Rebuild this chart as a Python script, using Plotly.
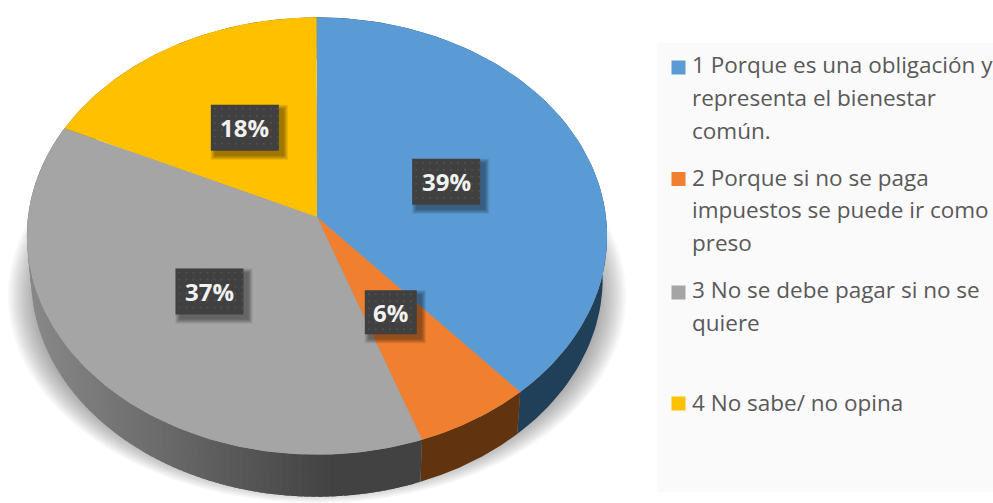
import numpy as np
import plotly.graph_objects as go

categories = ["1 Porque es una obligación y representa el bienestar común.",
              "2 Porque si no se paga impuestos se puede ir como preso",
              "3 No se debe pagar si no se quiere",
              "4 No sabe/ no opina"]
percent_values = [39, 6, 37, 18]
colors = ["#5B9BD5", "#F07F2F", "#A5A5A5", "#FFC000"]
side_colors = ["#203F58", "#61340F", None, "#7F6000"]
legend_lines = [["1 Porque es una obligación y", "representa el bienestar", "común."],
                ["2 Porque si no se paga", "impuestos se puede ir como", "preso"],
                ["3 No se debe pagar si no se", "quiere"],
                ["4 No sabe/ no opina"]]

# layout geometry (pixels)
W, H = 993, 503
CX, CY = 317, 217
A, B, K = 289, 217, 0.087
DEPTH, NARROW = 42, 0.985
VIEW_SKEW = 1.5
LEGEND_Y = [[64, 97, 130], [177, 209, 242], [289, 322], [402]]
SWATCH_Y = [67.5, 179, 292.5, 403.5]
LABEL_NUDGE = [(-2, 2), (-5, -6), (6, -3), (0, -4)]
FONT = "Open Sans"


def rim(t_deg, scale=1.0, drop=0.0, narrow=1.0):
    t_deg = np.asarray(t_deg, dtype=float)
    t_deg = t_deg - VIEW_SKEW * (1 + np.cos(np.radians(t_deg - 150))) / 2
    t = np.radians(t_deg)
    u, v = np.sin(t) * scale, -np.cos(t) * scale
    w = 1 - K * v
    return CX + A * narrow * u / w, CY + B * v / w + drop


def blend(c1, c2, f):
    a = np.array(c1, dtype=float)
    b = np.array(c2, dtype=float)
    r = a + (b - a) * f
    return "rgb(%d,%d,%d)" % tuple(r.round())


def poly(fig, x, y, color):
    fig.add_trace(go.Scatter(x=list(x), y=list(y), mode="lines", fill="toself",
                             fillcolor=color, line=dict(width=0, color=color),
                             hoverinfo="skip", showlegend=False))


fig = go.Figure()

# soft drop shadow below the disc
shadow_t = np.linspace(0, 360, 181)
for i in range(16):
    s = 1 - i * 0.0075
    rad = np.radians(shadow_t)
    poly(fig, 317 + 309 * s * np.sin(rad), 296 + 207 * s * np.cos(rad), "rgba(60,60,60,0.04)")

edges = np.concatenate([[0], np.cumsum(percent_values)]) * 3.6

# side wall
for i, (a0, a1) in enumerate(zip(edges[:-1], edges[1:])):
    if side_colors[i] is not None:
        ts = np.linspace(a0, a1, 80)
        x1, y1 = rim(ts)
        x2, y2 = rim(ts, drop=DEPTH, narrow=NARROW)
        poly(fig, np.r_[x1, x2[::-1]], np.r_[y1, y2[::-1]], side_colors[i])
    else:
        steps = np.linspace(a0, a1, 110)
        for s0, s1 in zip(steps[:-1], steps[1:]):
            ts = np.array([s0, min(s1 + 1.0, a1)])
            x1, y1 = rim(ts)
            x2, y2 = rim(ts, drop=DEPTH, narrow=NARROW)
            f = np.clip((x1.mean() - 35) / (330 - 35), 0, 1)
            poly(fig, np.r_[x1, x2[::-1]], np.r_[y1, y2[::-1]], blend((135, 135, 135), (66, 66, 66), f))

# top faces
for i, (a0, a1) in enumerate(zip(edges[:-1], edges[1:])):
    ts = np.linspace(a0, a1, 120)
    x, y = rim(ts)
    poly(fig, np.r_[CX, x, CX], np.r_[CY, y, CY], colors[i])

# data labels
box_w = {1: 52}
for i, (a0, a1) in enumerate(zip(edges[:-1], edges[1:])):
    mx, my = rim((a0 + a1) / 2)
    lx = CX + (mx - CX) * 0.5 + LABEL_NUDGE[i][0]
    ly = CY + (my - CY) * 0.5 + LABEL_NUDGE[i][1]
    hw, hh = box_w.get(i, 68) / 2, 23 if i != 1 else 22
    for n in range(5):
        g = 6 - n
        poly(fig, [lx - hw + 6 - g, lx + hw + 3 + g, lx + hw + 3 + g, lx - hw + 6 - g],
             [ly - hh + 6 - g, ly - hh + 6 - g, ly + hh + 3 + g, ly + hh + 3 + g], "rgba(0,0,0,0.09)")
    poly(fig, [lx - hw, lx + hw, lx + hw, lx - hw], [ly - hh, ly - hh, ly + hh, ly + hh], "#404040")
    gx, gy = np.meshgrid(np.arange(lx - hw + 4, lx + hw, 7), np.arange(ly - hh + 4, ly + hh, 7))
    fig.add_trace(go.Scatter(x=gx.ravel(), y=gy.ravel(), mode="markers",
                             marker=dict(size=2, color="#525252"), hoverinfo="skip", showlegend=False))
    fig.add_annotation(x=lx, y=ly, text="<b>%d%%</b>" % percent_values[i], showarrow=False,
                       font=dict(family=FONT, size=24, color="#F2F2F2"))

# legend
for i, lines in enumerate(legend_lines):
    fig.add_trace(go.Scatter(x=[678.5], y=[SWATCH_Y[i]], mode="markers",
                             marker=dict(symbol="square", size=14, color=colors[i]),
                             hoverinfo="skip", showlegend=False))
    for line, yy in zip(lines, LEGEND_Y[i]):
        fig.add_annotation(x=690, y=yy, text=line, showarrow=False, xanchor="left", yanchor="middle",
                           font=dict(family=FONT, size=22.5, color="#595959"))

fig.update_layout(
    width=W, height=H, margin=dict(l=0, r=0, t=0, b=0),
    paper_bgcolor="white", plot_bgcolor="white", showlegend=False,
    xaxis=dict(range=[0, W], visible=False, fixedrange=True),
    yaxis=dict(range=[H, 0], visible=False, fixedrange=True),
    shapes=[dict(type="rect", xref="x", yref="y", x0=657, x1=W, y0=43, y1=492,
                 fillcolor="#FAFAFA", line_width=0, layer="below")],
)
fig.write_html("out.html", config=dict(displayModeBar=False),
               post_script="document.body.style.margin='0';document.body.style.overflow='hidden';")
